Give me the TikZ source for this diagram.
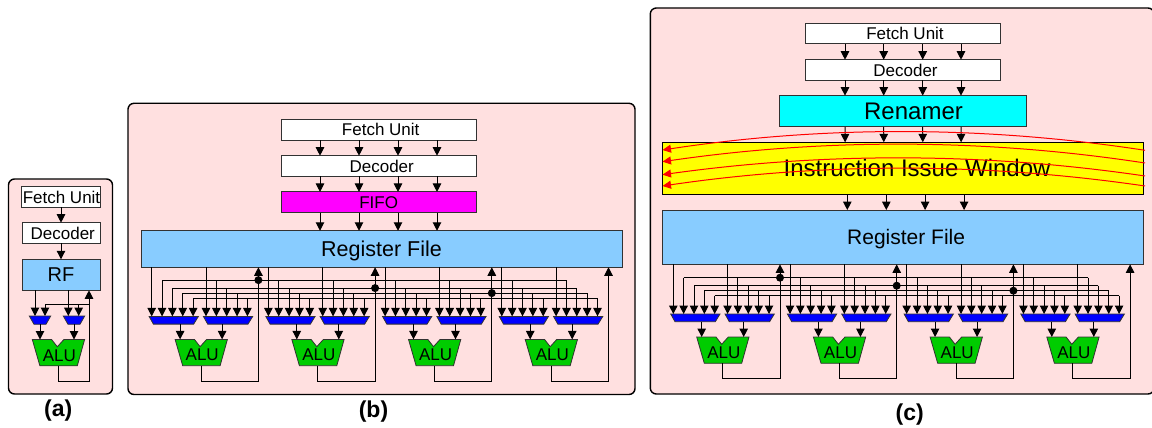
\documentclass[tikz,border=0pt]{standalone}
\usepackage{fontspec}
\setmainfont{Liberation Sans}
\usetikzlibrary{arrows.meta,calc}
\definecolor{panelpink}{RGB}{255,224,224}
\definecolor{rfblue}{RGB}{136,204,255}
\definecolor{edgegrey}{RGB}{50,50,50}
\definecolor{purecyan}{RGB}{0,255,255}
\definecolor{puremagenta}{RGB}{255,0,255}
\definecolor{pureyellow}{RGB}{255,255,0}
\definecolor{alugreen}{RGB}{0,204,0}
\definecolor{purered}{RGB}{255,0,0}
\definecolor{pureblue}{RGB}{0,0,255}
\tikzset{
  panel/.style={draw=black,line width=1.4pt,rounded corners=6pt,fill=panelpink},
  txt/.style={font=\fontsize{#1}{#1}\selectfont,text height=#1*0.716pt,text depth=0pt,inner sep=0pt,outer sep=0pt},
  blk/.style={draw=edgegrey,line width=1pt,rectangle,inner sep=0pt,outer sep=0pt},
  arr/.style={draw=black,line width=1pt,-{Triangle[length=8.5pt,width=8.5pt]}},
  wire/.style={draw=black,line width=1pt},
  redarr/.style={draw=purered,line width=1pt,-{Triangle[length=8.5pt,width=8pt]}},
  muxs/.style={draw=edgegrey,line width=0.8pt,fill=pureblue},
  alus/.style={draw=edgegrey,line width=0.8pt,fill=alugreen},
  dot/.style={circle,fill=black,inner sep=0pt,minimum size=8pt},
  captxt/.style={font=\fontsize{23}{23}\selectfont\bfseries,inner sep=0pt,outer sep=0pt},
}
% ALU polygon: #1 name, #2 left reference x, #3 dy
\newcommand{\aluPoly}[3]{%
  \draw[alus] (#2+23.4,337+#3) -- (#2+42.7,337+#3) -- (#2+48.4,344.3+#3) -- (#2+55,337+#3) -- (#2+75.7,337+#3) -- (#2+68.4,363.3+#3) -- (#2+31,363.3+#3) -- cycle;
  \node[txt=17] (#1) at (#2+50.5,352.5+#3) {ALU};
}
% bank of ALUs: #1 prefix, #2 x0, #3 dy
\newcommand{\aluBank}[3]{%
  \foreach \busk/\busy in {1/277.7,2/285.7,3/290.7,4/295.7}{
    \coordinate (#1-bus\busk-l) at (#2+10.35*\busk,\busy+#3);
    \coordinate (#1-bus\busk-r) at (#2+350.1+54.3+10.35*\busk,\busy+#3);
    \draw[wire] (#1-bus\busk-l) -- (#1-bus\busk-r);
  }
  \foreach \g in {0,1,2,3}{
    \pgfmathsetmacro\gx{#2+116.7*\g}
    \foreach \mi/\mo/\oo in {0/0/28.4,1/54.3/70.4}{
      \draw[muxs] (\gx+\mo-2.6,314+#3) -- (\gx+\mo+46.7,314+#3) -- (\gx+\mo+42,321.7+#3) -- (\gx+\mo+1.7,321.7+#3) -- cycle;
      \foreach \col in {0,1,2,3,4}{
        \pgfmathsetmacro\cx{\gx+\mo+10.35*\col}
        \coordinate (#1-t\g\mi\col) at (\cx,314+#3);
        \ifnum\col=0
          \draw[arr] (#1-t\g\mi\col |- #1-rf.south) -- (#1-t\g\mi\col);
        \else
          \draw[arr] (#1-t\g\mi\col |- #1-bus\col-l) -- (#1-t\g\mi\col);
        \fi
      }
      \coordinate (#1-mo\g\mi) at (\gx+\oo,321.7+#3);
      \coordinate (#1-ai\g\mi) at (\gx+\oo,337+#3);
    }
    \aluPoly{#1-alu\g}{\gx}{#3}
    \foreach \mi in {0,1}{\draw[arr] (#1-mo\g\mi) -- (#1-ai\g\mi);}
    \coordinate (#1-out\g) at (\gx+49.4,363.3+#3);
    \coordinate (#1-low\g) at (\gx+106.7,378.7+#3);
    \draw[arr] (#1-out\g) |- (#1-low\g) -- (#1-rf.south -| #1-low\g);
  }
  \foreach \g/\busk in {0/1,1/2,2/3}{
    \node[dot] (#1-dot\g) at (#1-low\g |- #1-bus\busk-l) {};
  }
}
\begin{document}
\begin{tikzpicture}[x=1pt,y=-1pt]
\useasboundingbox (0,0) rectangle (1152,428);
\fill[white] (0,0) rectangle (1152,428);
% ---------- (a)
\draw[panel] (8.5,179) rectangle (112.5,394);
\node[blk,fill=white,txt=17,minimum width=78pt,minimum height=20.6pt] (a-fetch) at (61,197) {\hspace*{1pt}Fetch Unit};
\node[blk,fill=white,txt=17,minimum width=78pt,minimum height=20.6pt] (a-dec) at (61,233) {\hspace*{3.5pt}Decoder};
\node[blk,fill=rfblue,txt=20,minimum width=78pt,minimum height=31pt] (a-rf) at (61,274.8) {RF};
\draw[arr] (a-fetch.south) -- (a-dec.north);
\draw[arr] (a-dec.south) -- (a-rf.north);
\draw[muxs] (29.3,316) -- (50.7,316) -- (46,324.3) -- (34,324.3) -- cycle;
\draw[muxs] (63.3,316) -- (84.7,316) -- (80,324.3) -- (68,324.3) -- cycle;
\coordinate (a-t1) at (35,316);
\coordinate (a-t2) at (45,316);
\coordinate (a-t3) at (68.3,316);
\coordinate (a-t4) at (78.7,316);
\coordinate (a-busl) at (45,304);
\coordinate (a-busr) at (89,304);
\draw[arr] (a-t1 |- a-rf.south) -- (a-t1);
\draw[arr] (a-t3 |- a-rf.south) -- (a-t3);
\draw[wire] (a-busl) -- (a-busr);
\draw[arr] (a-busl) -- (a-t2);
\draw[arr] (a-t4 |- a-busl) -- (a-t4);
\aluPoly{a-alu}{8.9}{2.5}
\draw[arr] (40,324.3) -- (40,339.5);
\draw[arr] (74,324.3) -- (74,339.5);
\coordinate (a-out) at (58,365.8);
\coordinate (a-low) at (89,381);
\draw[arr] (a-out) |- (a-low) -- (a-rf.south -| a-low);
\node[captxt] (a-cap) at (58.3,411) {(a)};
% ---------- (b)
\draw[panel] (128,103.3) rectangle (635,394.5);
\node[blk,fill=white,txt=17,minimum width=194.7pt,minimum height=20.6pt] (b-fetch) at (378.7,129.7) {\hspace*{4pt}Fetch Unit};
\node[blk,fill=white,txt=17,minimum width=194.7pt,minimum height=20.6pt] (b-dec) at (378.7,166) {\hspace*{6pt}Decoder};
\node[blk,fill=puremagenta,txt=17,minimum width=194.7pt,minimum height=20.7pt] (b-fifo) at (378.7,202.3) {FIFO};
\node[blk,fill=rfblue,txt=21.5,minimum width=481pt,minimum height=36.5pt] (b-rf) at (381.5,249) {Register File};
\foreach \i/\d in {1/-58.7,2/-19.7,3/19.3,4/58.3}{
  \draw[arr] ([xshift=\d pt]b-fetch.south) -- ([xshift=\d pt]b-dec.north);
  \draw[arr] ([xshift=\d pt]b-dec.south) -- ([xshift=\d pt]b-fifo.north);
  \draw[arr] ([xshift=\d pt]b-fifo.south) -- ([xshift=\d pt]b-fifo.south |- b-rf.north);
}
\aluBank{b}{151.7}{2.4}
\node[captxt] (b-cap) at (373.5,412) {(b)};
% ---------- (c)
\draw[panel] (650.3,8) rectangle (1154,394);
\node[blk,fill=white,txt=17,minimum width=194.7pt,minimum height=20.6pt] (c-fetch) at (903,33.7) {\hspace*{4pt}Fetch Unit};
\node[blk,fill=white,txt=17,minimum width=194.7pt,minimum height=20.6pt] (c-dec) at (903,70) {\hspace*{5pt}Decoder};
\node[blk,fill=purecyan,txt=24,minimum width=246.6pt,minimum height=31.3pt] (c-ren) at (903,111.3) {\hspace*{21pt}Renamer};
\node[blk,draw=black,fill=pureyellow,txt=24,minimum width=480.3pt,minimum height=52pt] (c-win) at (903.1,168.3) {\hspace*{28pt}Instruction Issue Window};
\node[blk,fill=rfblue,txt=21,minimum width=480.3pt,minimum height=54.3pt] (c-rf) at (903.1,237.2) {\hspace*{6pt}Register File};
\foreach \i/\d in {1/-58,2/-19.3,3/19.7,4/58}{
  \draw[arr] ([xshift=\d pt]c-fetch.south) -- ([xshift=\d pt]c-dec.north);
  \draw[arr] ([xshift=\d pt]c-dec.south) -- ([xshift=\d pt]c-ren.north);
  \draw[arr] ([xshift=\d pt]c-ren.south) -- ([xshift=\d pt]c-win.north);
}
\foreach \i/\d in {1/-55.8,2/-16.8,3/22,4/61}{
  \draw[arr] ([xshift=\d pt]c-win.south) -- ([xshift=\d pt]c-rf.north);
}
\foreach \i/\yr/\yl/\pk in {1/150.3/150/131.7,2/163/161.7/144.3,3/176/174.7/158,4/186/186/168.3}{
  \coordinate (c-rr\i) at (1145,\yr);
  \coordinate (c-rl\i) at (662.5,\yl);
  \pgfmathsetmacro\cy{\pk-(0.5*(\yr+\yl)-\pk)/3}
  \draw[redarr] (c-rr\i) .. controls (984,\cy) and (823,\cy) .. (c-rl\i);
}
\aluBank{c}{673.3}{0}
\node[captxt] (c-cap) at (909.7,414.5) {(c)};
\end{tikzpicture}
\end{document}
